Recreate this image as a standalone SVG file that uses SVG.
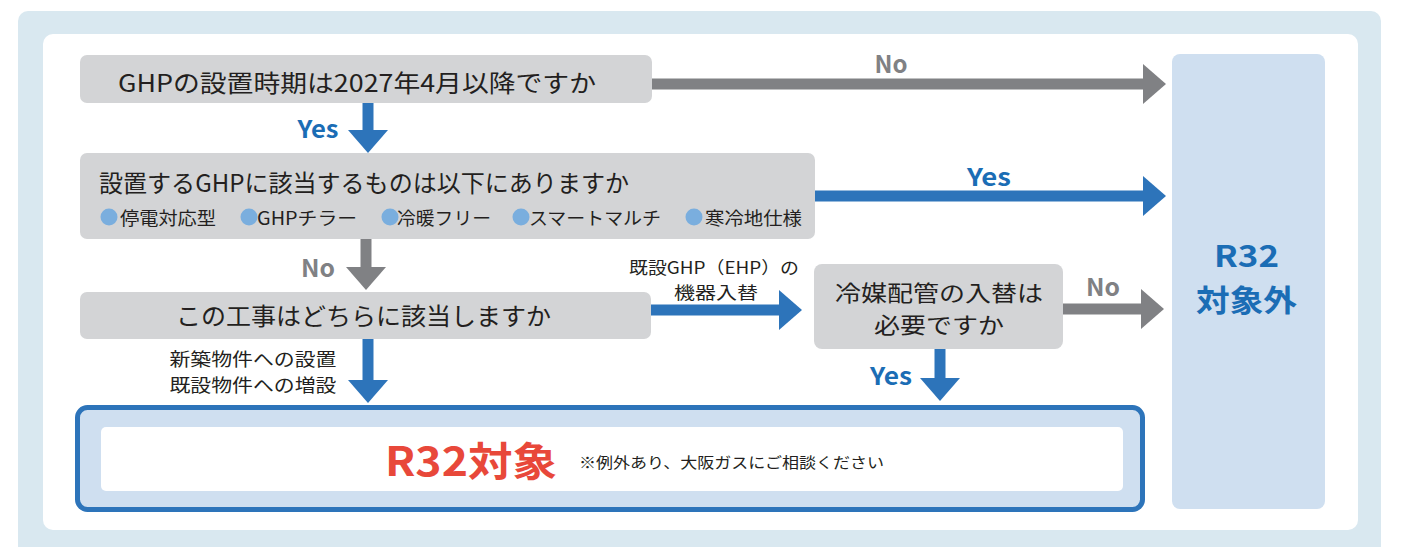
<svg xmlns="http://www.w3.org/2000/svg" width="1423" height="547" viewBox="0 0 1423 547">
<style>
.jp{font-family:"Noto Sans CJK JP","Noto Sans",sans-serif;fill:#231f20;}
.lb{font-family:"Noto Sans CJK JP","Liberation Sans",sans-serif;font-weight:bold;}
.box{fill:#d3d4d6;}
.gray{stroke:#808184;stroke-width:11;fill:none;}
.blue{stroke:#2d74ba;stroke-width:11;fill:none;}
.dot{fill:#7aaede;}
</style>
<defs>
<marker id="ag" markerUnits="userSpaceOnUse" markerWidth="24" markerHeight="42" viewBox="0 -21 24 42" refX="0" refY="0" orient="auto"><path d="M0,-20 L23,0 L0,20 Z" fill="#808184"/></marker>
<marker id="ab" markerUnits="userSpaceOnUse" markerWidth="24" markerHeight="42" viewBox="0 -21 24 42" refX="0" refY="0" orient="auto"><path d="M0,-20 L23,0 L0,20 Z" fill="#2d74ba"/></marker>
</defs>
<rect x="18" y="11" width="1363" height="560" rx="10" fill="#d9e8f0"/>
<rect x="43" y="34" width="1315" height="496" rx="10" fill="#ffffff"/>

<g id="connectors">
<line class="gray" x1="652" y1="84" x2="1143" y2="84" marker-end="url(#ag)"/>
<line class="blue" x1="815" y1="196" x2="1143" y2="196" marker-end="url(#ab)"/>
<line class="blue" x1="651" y1="310" x2="779" y2="310" marker-end="url(#ab)"/>
<line class="gray" x1="1063" y1="309" x2="1141" y2="309" marker-end="url(#ag)"/>
<line class="blue" x1="368" y1="103" x2="368" y2="130" marker-end="url(#ab)"/>
<line class="gray" x1="366" y1="239" x2="366" y2="267" marker-end="url(#ag)"/>
<line class="blue" x1="368" y1="339" x2="368" y2="380" marker-end="url(#ab)"/>
<line class="blue" x1="940" y1="349" x2="940" y2="378" marker-end="url(#ab)"/>
<text class="lb" x="318" y="127" dominant-baseline="central" text-anchor="middle" font-size="24" fill="#1b6db5" textLength="41" lengthAdjust="spacingAndGlyphs">Yes</text>
<text class="lb" x="891" y="62" dominant-baseline="central" text-anchor="middle" font-size="24" fill="#808184" textLength="33" lengthAdjust="spacingAndGlyphs">No</text>
<text class="lb" x="989" y="175" dominant-baseline="central" text-anchor="middle" font-size="24" fill="#1b6db5" textLength="44" lengthAdjust="spacingAndGlyphs">Yes</text>
<text class="lb" x="318" y="266" dominant-baseline="central" text-anchor="middle" font-size="24" fill="#808184" textLength="34" lengthAdjust="spacingAndGlyphs">No</text>
<text class="lb" x="1103" y="285" dominant-baseline="central" text-anchor="middle" font-size="24" fill="#808184" textLength="34" lengthAdjust="spacingAndGlyphs">No</text>
<text class="lb" x="891" y="374" dominant-baseline="central" text-anchor="middle" font-size="24" fill="#1b6db5" textLength="42" lengthAdjust="spacingAndGlyphs">Yes</text>
<text class="jp" x="714" y="266.5" dominant-baseline="central" text-anchor="middle" font-size="17" textLength="170" lengthAdjust="spacingAndGlyphs">既設GHP（EHP）の</text>
<text class="jp" x="716" y="291" dominant-baseline="central" text-anchor="middle" font-size="17" textLength="84" lengthAdjust="spacingAndGlyphs">機器入替</text>
<text class="jp" x="253" y="357.5" dominant-baseline="central" text-anchor="middle" font-size="18" textLength="167" lengthAdjust="spacingAndGlyphs">新築物件への設置</text>
<text class="jp" x="253" y="384" dominant-baseline="central" text-anchor="middle" font-size="18" textLength="167" lengthAdjust="spacingAndGlyphs">既設物件への増設</text>
</g>

<g id="q1">
<rect class="box" x="80" y="55" width="572" height="48" rx="7"/>
<text class="jp" x="357" y="81.5" dominant-baseline="central" text-anchor="middle" font-size="24" textLength="478" lengthAdjust="spacingAndGlyphs">GHPの設置時期は2027年4月以降ですか</text>
</g>

<g id="q2">
<rect class="box" x="80" y="153" width="735" height="86" rx="7"/>
<text class="jp" x="99" y="181.5" dominant-baseline="central" font-size="24" textLength="530" lengthAdjust="spacingAndGlyphs">設置するGHPに該当するものは以下にありますか</text>
<circle class="dot" cx="109" cy="217" r="8.5"/>
<text class="jp" x="120" y="217" dominant-baseline="central" font-size="18" textLength="96" lengthAdjust="spacingAndGlyphs">停電対応型</text>
<circle class="dot" cx="249" cy="217" r="8.5"/>
<text class="jp" x="257" y="217" dominant-baseline="central" font-size="18" textLength="100" lengthAdjust="spacingAndGlyphs">GHPチラー</text>
<circle class="dot" cx="390" cy="217" r="8.5"/>
<text class="jp" x="397" y="217" dominant-baseline="central" font-size="18" textLength="94" lengthAdjust="spacingAndGlyphs">冷暖フリー</text>
<circle class="dot" cx="521" cy="217" r="8.5"/>
<text class="jp" x="529" y="217" dominant-baseline="central" font-size="18" textLength="132" lengthAdjust="spacingAndGlyphs">スマートマルチ</text>
<circle class="dot" cx="694" cy="217" r="8.5"/>
<text class="jp" x="705" y="217" dominant-baseline="central" font-size="18" textLength="97" lengthAdjust="spacingAndGlyphs">寒冷地仕様</text>
</g>

<g id="q3">
<rect class="box" x="80" y="292" width="571" height="47" rx="7"/>
<text class="jp" x="363.5" y="314" dominant-baseline="central" text-anchor="middle" font-size="24" textLength="375" lengthAdjust="spacingAndGlyphs">この工事はどちらに該当しますか</text>
</g>

<g id="q4">
<rect class="box" x="814" y="264" width="249" height="85" rx="8"/>
<text class="jp" x="939" y="291" dominant-baseline="central" text-anchor="middle" font-size="22" textLength="208" lengthAdjust="spacingAndGlyphs">冷媒配管の入替は</text>
<text class="jp" x="939" y="322.5" dominant-baseline="central" text-anchor="middle" font-size="22" textLength="130" lengthAdjust="spacingAndGlyphs">必要ですか</text>
</g>

<g id="out">
<rect x="1172" y="54" width="153" height="455" rx="8" fill="#cfdff0"/>
<text class="lb" x="1246.5" y="254" dominant-baseline="central" text-anchor="middle" font-size="30" fill="#1b6db5" textLength="65" lengthAdjust="spacingAndGlyphs">R32</text>
<text class="lb" x="1246.5" y="297.5" dominant-baseline="central" text-anchor="middle" font-size="30" fill="#1b6db5" textLength="101" lengthAdjust="spacingAndGlyphs">対象外</text>
</g>

<g id="target">
<rect x="77.5" y="407.5" width="1065" height="102" rx="10" fill="#cfdff0" stroke="#2d74ba" stroke-width="5"/>
<rect x="101" y="427" width="1022" height="64" rx="5" fill="#ffffff"/>
<text class="lb" x="385" y="458.5" dominant-baseline="central" font-size="40" fill="#e8483a" textLength="172" lengthAdjust="spacingAndGlyphs">R32対象</text>
<text class="jp" x="579" y="461.5" dominant-baseline="central" font-size="15" textLength="305" lengthAdjust="spacingAndGlyphs">※例外あり、大阪ガスにご相談ください</text>
</g>
</svg>
